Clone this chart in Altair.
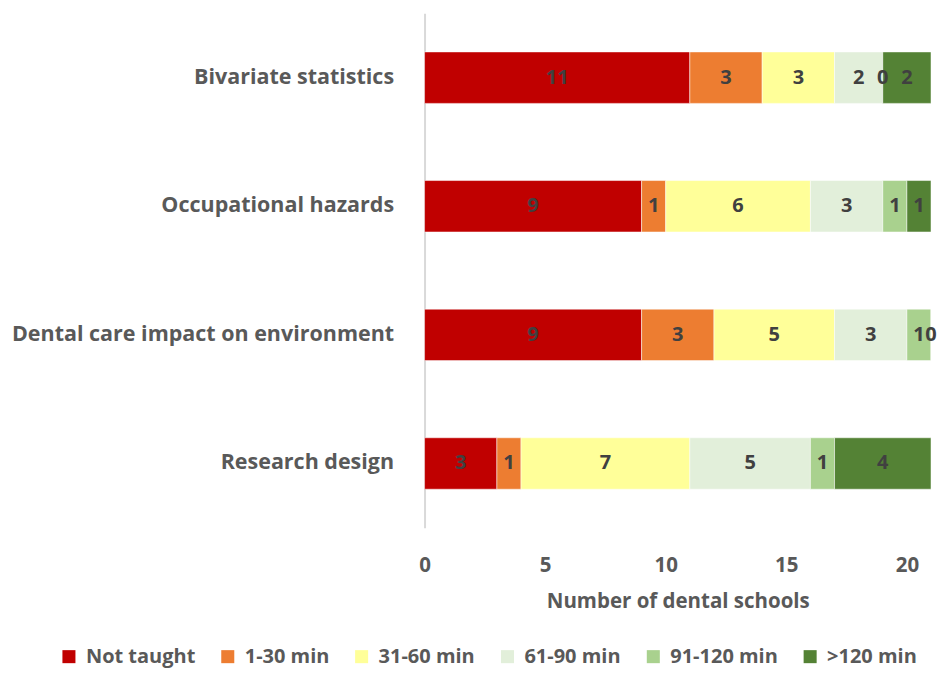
import altair as alt
import pandas as pd

categories = ["Bivariate statistics", "Occupational hazards",
              "Dental care impact on environment", "Research design"]
series = ["Not taught", "1-30 min", "31-60 min", "61-90 min", "91-120 min", ">120 min"]
colors = ["#C00000", "#ED7D31", "#FFFF99", "#E2EFDA", "#A9D18E", "#548235"]
values = {
    "Not taught": [11, 9, 9, 3],
    "1-30 min":   [3, 1, 3, 1],
    "31-60 min":  [3, 6, 5, 7],
    "61-90 min":  [2, 3, 3, 5],
    "91-120 min": [0, 1, 1, 1],
    ">120 min":   [2, 1, 0, 4],
}

rows = []
for si, s in enumerate(series):
    for ci, c in enumerate(categories):
        rows.append({"cat": c, "series": s, "order": si, "value": values[s][ci]})
df = pd.DataFrame(rows)

FONT = "Open Sans"
GREY = "#595959"

y_enc = alt.Y("cat:N", sort=categories, title=None,
              scale=alt.Scale(paddingInner=0.6, paddingOuter=0.3),
              axis=alt.Axis(labelFont=FONT, labelFontSize=21.5, labelFontWeight="bold",
                            labelColor=GREY, labelPadding=31, ticks=False,
                            domainColor="#D9D9D9", domainWidth=2, labelLimit=500))

base = alt.Chart(df).transform_stack(
    stack="value", groupby=["cat"], as_=["x0", "x1"],
    sort=[alt.SortField("order", "ascending")]
).transform_calculate(mid="(datum.x0 + datum.x1) / 2")

bars = base.mark_bar(stroke="white", strokeWidth=1, strokeOpacity=0.5).encode(
    x=alt.X("x0:Q", title="Number of dental schools",
            scale=alt.Scale(domain=[0, 21], nice=False),
            axis=alt.Axis(values=[0, 5, 10, 15, 20], grid=False, domain=False, ticks=False,
                          labelFont=FONT, labelFontSize=20.5, labelFontWeight="bold",
                          labelColor=GREY, labelPadding=28, labelFlush=False,
                          titleFont=FONT, titleFontSize=20.5, titleFontWeight="bold",
                          titleColor=GREY, titlePadding=15)),
    x2="x1:Q",
    y=y_enc,
    color=alt.Color("series:N", sort=series,
                    scale=alt.Scale(domain=series, range=colors),
                    legend=alt.Legend(title=None, orient="none", direction="horizontal",
                                      legendX=-366, legendY=634,
                                      symbolType="square", symbolSize=170,
                                      symbolStrokeWidth=0,
                                      labelFont=FONT, labelFontSize=20,
                                      labelFontWeight="bold", labelColor=GREY,
                                      columnPadding=22, labelOffset=7)),
    order=alt.Order("order:Q"),
)

labels = base.mark_text(font=FONT, fontSize=20, fontWeight="bold", color="#404040",
                        baseline="middle", align="center").encode(
    x=alt.X("mid:Q"),
    y=alt.Y("cat:N", sort=categories),
    text=alt.Text("value:Q"),
)

chart = alt.layer(bars, labels).properties(
    width=507, height=515,
    autosize=alt.AutoSizeParams(type="none"),
    padding={"left": 417, "top": 5, "right": 6, "bottom": 141},
).configure_view(stroke=None)

chart.save("out.html", embed_options={"renderer": "svg", "actions": False})
